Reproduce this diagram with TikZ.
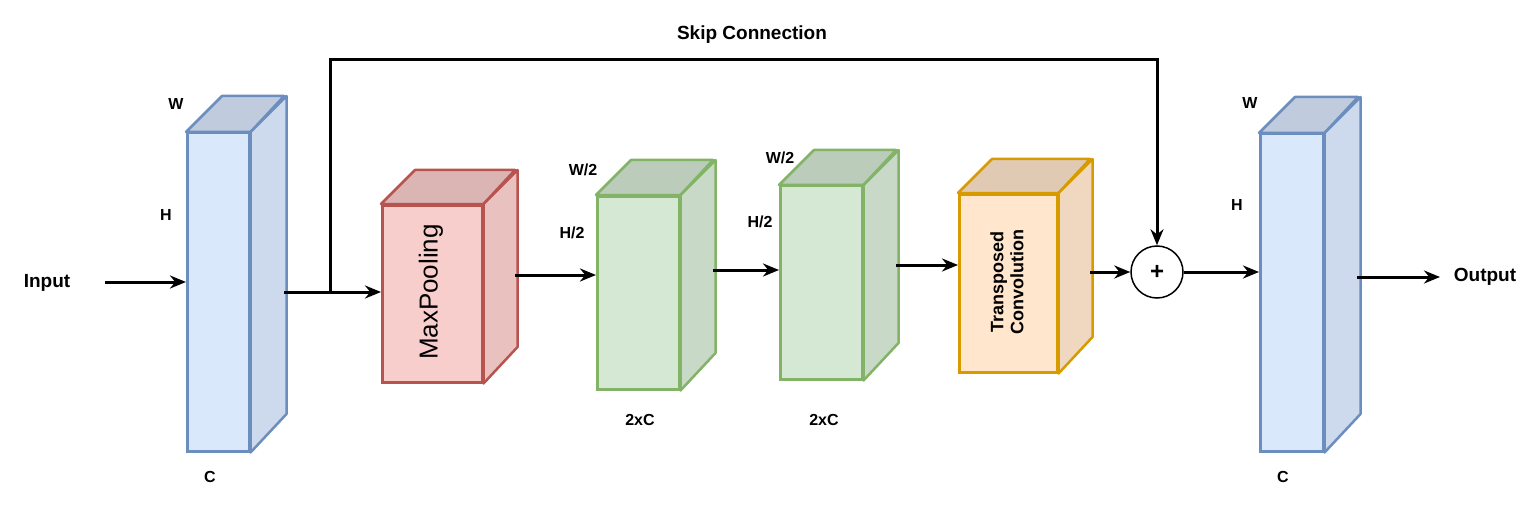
\documentclass[tikz,border=0pt]{standalone}
\usepackage{fontspec}
\setmainfont{Liberation Sans}
\usetikzlibrary{arrows.meta,calc}
\definecolor{bF}{HTML}{DAE8FC}\definecolor{bS}{HTML}{6C8EBF}
\definecolor{rF}{HTML}{F8CECC}\definecolor{rS}{HTML}{B85450}
\definecolor{gF}{HTML}{D5E8D4}\definecolor{gS}{HTML}{82B366}
\definecolor{oF}{HTML}{FFE6CC}\definecolor{oS}{HTML}{D79B00}
\newcommand\mycube[8]{% name, x1,y1,x2,y2, dx, fill, stroke
 \node[draw=#8,fill=#7,line width=2.5pt,minimum width={(#4-#2)*1pt},minimum height={(#5-#3)*1pt},inner sep=0pt,anchor=north west] (#1) at (#2,#3) {};
 \fill[#7!88!black,draw=#8,line width=2.5pt,line join=round] (#1.north west)--++(#6,-#6)--++(#4-#2,0)--(#1.north east)--cycle;
 \fill[#7!94!black,draw=#8,line width=2.5pt,line join=round] (#1.north east)--++(#6,-#6)--++(0,#5-#3)--(#1.south east)--cycle;
}
\begin{document}
\begin{tikzpicture}[x=1pt,y=-1pt,
 arr/.style={-{Stealth[length=16pt,width=13pt]},line width=3pt},
 lab/.style={font=\bfseries\fontsize{16}{18}\selectfont},
 blab/.style={font=\bfseries\fontsize{19}{21}\selectfont}]
\useasboundingbox (0,0) rectangle (1540,508);
\mycube{b1}{186}{132}{248}{450}{36}{bF}{bS}
\mycube{r}{381}{204}{481}{381}{34}{rF}{rS}
\mycube{g1}{596}{195}{678}{388}{35}{gF}{gS}
\mycube{g2}{779}{185}{861}{378}{35}{gF}{gS}
\mycube{o}{958}{193}{1056}{371}{34}{oF}{oS}
\mycube{b2}{1259}{133}{1322}{450}{36}{bF}{bS}
\node[rotate=90,font=\fontsize{26}{28}\selectfont] at (431,292) {MaxPooling};
\node[rotate=90,align=center,font=\bfseries\fontsize{18}{20}\selectfont] at (1007,282) {Transposed\\Convolution};
\node[draw,circle,line width=1.5pt,minimum size=52pt,inner sep=0pt,font=\bfseries\fontsize{24}{24}\selectfont] (p) at (1157,272) {+};
\node[blab] (in) at (47,283) {Input};
\node[blab] (out) at (1485,277) {Output};
\node[blab] (sk) at (752,35) {Skip Connection};
\node[lab] at (176,104) {W};\node[lab] at (166,215) {H};\node[lab] at (210,477) {C};
\node[lab] at (583,170) {W/2};\node[lab] at (572,233) {H/2};\node[lab] at (640,420) {2xC};
\node[lab] at (780,158) {W/2};\node[lab] at (760,222) {H/2};\node[lab] at (824,420) {2xC};
\node[lab] at (1250,103) {W};\node[lab] at (1237,205) {H};\node[lab] at (1283,477) {C};
\draw[arr] (105,282) -- (186,282);
\coordinate (s) at (330,292);
\draw[arr] (284,292) -- (381,292);
\draw[arr] (s) |- (1157,60) -- (p.north);
\draw[arr] (515,275) -- (596,275);
\draw[arr] (713,270) -- (779,270);
\draw[arr] (896,265) -- (958,265);
\draw[arr] (1090,272) -- (p.west);
\draw[arr] (p.east) -- (1259,272);
\draw[arr] (1357,277) -- (1440,277);
\end{tikzpicture}
\end{document}
